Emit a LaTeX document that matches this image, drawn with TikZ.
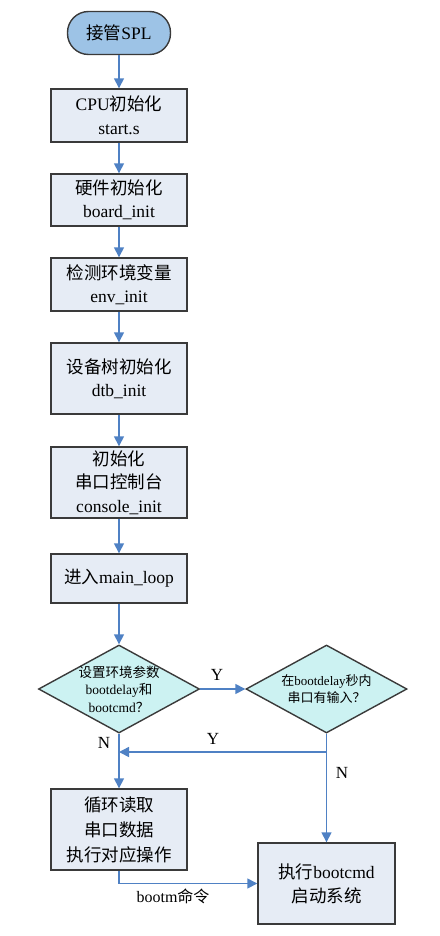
\documentclass[tikz,border=0pt]{standalone}
\usepackage{fontspec}
\setmainfont{Liberation Serif}
\newfontfamily\cjk{Noto Sans CJK SC}
\newcommand{\zh}[1]{{\cjk #1}}
\usetikzlibrary{shapes.geometric,arrows.meta}
\definecolor{boxfill}{HTML}{E6ECF5}
\definecolor{boxline}{HTML}{3A3A3A}
\definecolor{termfill}{HTML}{9DC3E6}
\definecolor{diafill}{HTML}{CCF2F2}
\definecolor{arrowc}{HTML}{4F81C4}
\tikzset{
  procbox/.style={draw=boxline, fill=boxfill, line width=1.4pt, minimum width=136pt, align=center, inner sep=0pt, font=\fontsize{17.5}{23.5}\selectfont},
  termbox/.style={draw=boxline, fill=termfill, line width=1.4pt, rounded corners=21pt, minimum width=103pt, minimum height=43pt, inner sep=0pt, font=\fontsize{17.5}{22}\selectfont},
  decbox/.style={diamond, draw=boxline, fill=diafill, line width=1.4pt, minimum width=161pt, minimum height=88pt, inner sep=0pt},
  flow/.style={draw=arrowc, line width=1.5pt, -{Triangle[length=10pt,width=10pt]}},
  flowline/.style={draw=arrowc, line width=1.5pt},
  lbl/.style={font=\fontsize{17}{20}\selectfont, inner sep=0pt},
}
\begin{document}
\begin{tikzpicture}[x=1pt,y=-1pt]
\useasboundingbox (0,0) rectangle (439,936);
\node[termbox] (start) at (119,33) {\zh{接管}SPL};
\node[procbox, minimum height=53pt] (b1) at (119,115.5) {CPU\zh{初始化}\\start.s};
\node[procbox, minimum height=52pt] (b2) at (119,200) {\zh{硬件初始化}\\board\_init};
\node[procbox, minimum height=53pt] (b3) at (119,284.5) {\zh{检测环境变量}\\env\_init};
\node[procbox, minimum height=71pt] (b4) at (119,378.5) {\zh{设备树初始化}\\dtb\_init};
\node[procbox, minimum height=71pt] (b5) at (119,482.5) {\zh{初始化}\\\zh{串口控制台}\\console\_init};
\node[procbox, minimum height=49pt] (b6) at (119,578.5) {\zh{进入}main\_loop};
\node[decbox, label={[align=center, font=\fontsize{13.5}{17.5}\selectfont]center:\zh{设置环境参数}\\bootdelay\zh{和}\\bootcmd\zh{？}}] (d1) at (119,689) {};
\node[decbox, label={[align=center, font=\fontsize{13}{17.5}\selectfont]center:\zh{在}bootdelay\zh{秒内}\\\zh{串口有输入？}}] (d2) at (326.5,689) {};
\node[procbox, minimum height=81pt, font=\fontsize{17.5}{25}\selectfont] (b7) at (119,829.5) {\zh{循环读取}\\\zh{串口数据}\\\zh{执行对应操作}};
\node[procbox, minimum width=137pt, minimum height=81pt, font=\fontsize{17.5}{24}\selectfont] (b8) at (326.5,883.5) {\zh{执行}bootcmd\\\zh{启动系统}};
\coordinate (j) at (119,752);
\draw[flow] (start) -- (b1);
\draw[flow] (b1) -- (b2);
\draw[flow] (b2) -- (b3);
\draw[flow] (b3) -- (b4);
\draw[flow] (b4) -- (b5);
\draw[flow] (b5) -- (b6);
\draw[flow] (b6) -- (d1);
\draw[flow] (d1.east) -- (d2.west);
\draw[flow] (d1.south) -- (b7.north);
\draw[flow] (d2.south) -- (b8.north);
\draw[flow] (d2.south) |- (j);
\draw[flow] (b7.south) |- (b8.west);
\node[lbl] (ly1) at (217,675) {Y};
\node[lbl] (ly2) at (213,739) {Y};
\node[lbl] (ln1) at (104,743) {N};
\node[lbl] (ln2) at (342,773) {N};
\node[lbl, font=\fontsize{16}{20}\selectfont] (lb) at (173,896) {bootm\zh{命令}};
\end{tikzpicture}
\end{document}
